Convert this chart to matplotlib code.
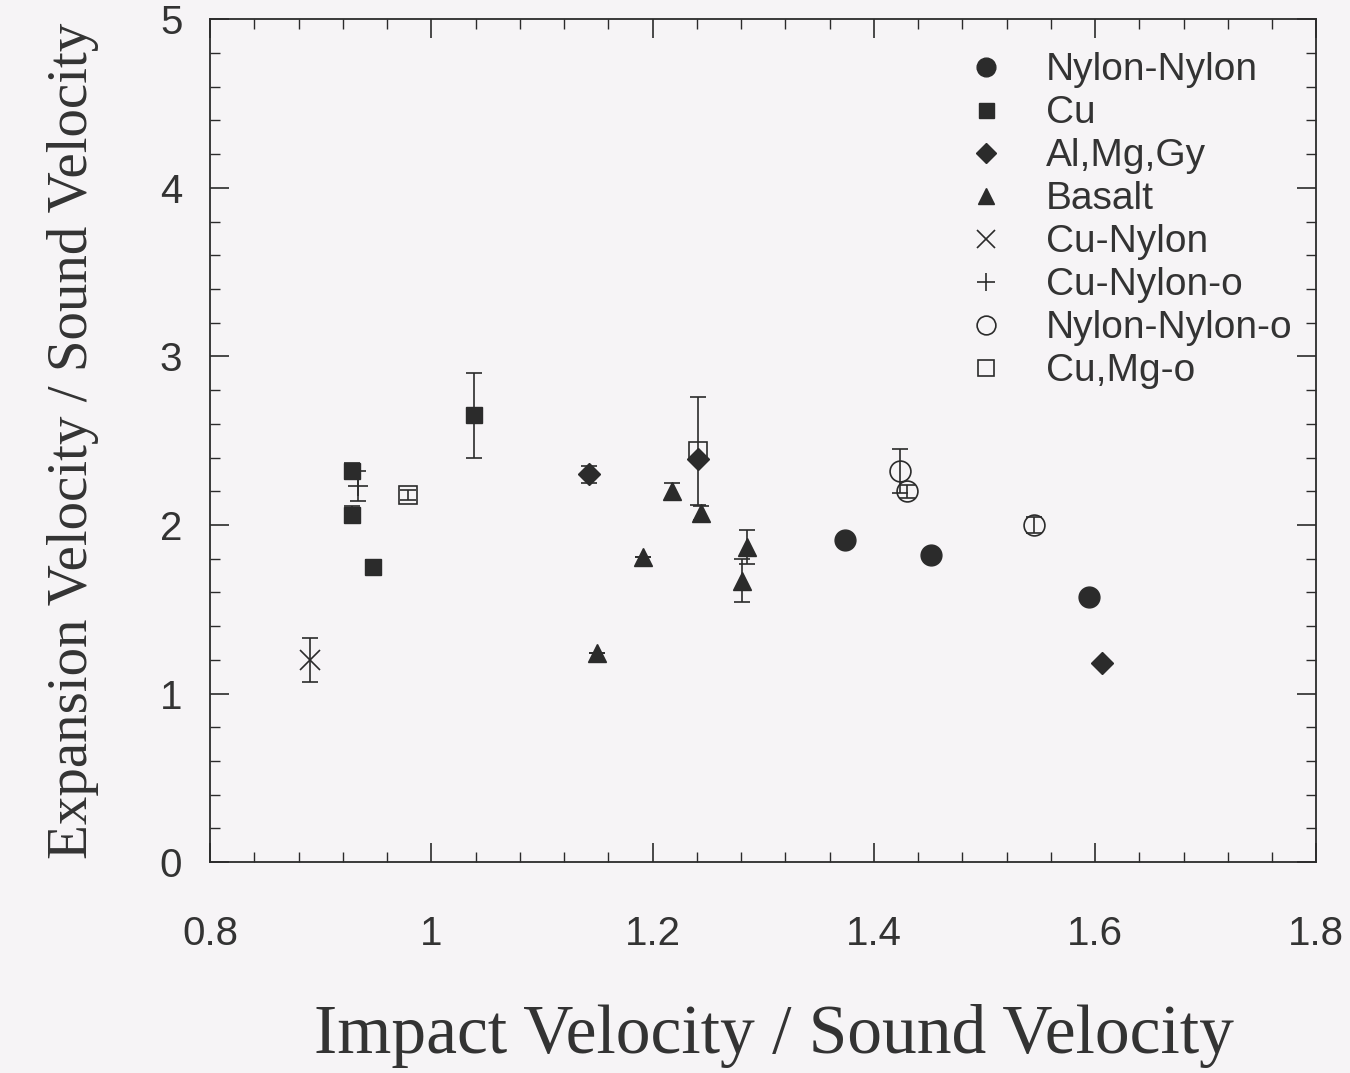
import numpy as np
import matplotlib
matplotlib.use('Agg')
import matplotlib.pyplot as plt
from matplotlib.ticker import MultipleLocator

# Data (x = impact / sound, y = expansion / sound)
nylon_x = [1.374, 1.452, 1.595]
nylon_y = [1.91, 1.82, 1.57]
nylon_err = [0.0, 0.0, 0.0]

cu_x = [0.928, 0.928, 1.039, 0.947]
cu_y = [2.32, 2.06, 2.65, 1.75]
cu_err = [0.05, 0.05, 0.25, 0.04]

al_x = [1.143, 1.241, 1.606]
al_y = [2.30, 2.39, 1.18]
al_err = [0.05, 0.0, 0.0]

basalt_x = [1.218, 1.244, 1.191, 1.150, 1.285, 1.281]
basalt_y = [2.20, 2.07, 1.81, 1.24, 1.87, 1.67]
basalt_err = [0.05, 0.04, 0.0, 0.0, 0.10, 0.13]

cunylon_x = [0.890]
cunylon_y = [1.20]
cunylon_err = [0.13]

cunylon_o_x = [0.934]
cunylon_o_y = [2.23]
cunylon_o_err = [0.09]

nylon_o_x = [1.424, 1.430, 1.545]
nylon_o_y = [2.32, 2.20, 2.00]
nylon_o_err = [0.13, 0.04, 0.05]

cumg_o_x = [0.979, 1.241]
cumg_o_y = [2.18, 2.44]
cumg_o_err = [0.03, 0.32]

ink = '#2b2b2b'
txt = '#333333'
bg = '#f6f4f6'

series = [
    ('Nylon-Nylon', nylon_x, nylon_y, nylon_err, dict(marker='o', ms=15, mfc=ink, mec=ink)),
    ('Cu', cu_x, cu_y, cu_err, dict(marker='s', ms=12, mfc=ink, mec=ink)),
    ('Al,Mg,Gy', al_x, al_y, al_err, dict(marker='D', ms=11, mfc=ink, mec=ink)),
    ('Basalt', basalt_x, basalt_y, basalt_err, dict(marker='^', ms=13, mfc=ink, mec=ink)),
    ('Cu-Nylon', cunylon_x, cunylon_y, cunylon_err, dict(marker='x', ms=14, mec=ink, mew=1.2)),
    ('Cu-Nylon-o', cunylon_o_x, cunylon_o_y, cunylon_o_err, dict(marker='+', ms=14, mec=ink, mew=1.2)),
    ('Nylon-Nylon-o', nylon_o_x, nylon_o_y, nylon_o_err, dict(marker='o', ms=15, mfc='none', mec=ink, mew=1.2)),
    ('Cu,Mg-o', cumg_o_x, cumg_o_y, cumg_o_err, dict(marker='s', ms=13, mfc='none', mec=ink, mew=1.2)),
]

fig = plt.figure(figsize=(13.5, 10.73), dpi=100, facecolor=bg)
ax = fig.add_axes([0.1556, 0.1966, 0.8194, 0.7854])
ax.set_facecolor(bg)

handles = []
for name, x, y, err, style in series:
    ax.errorbar(x, y, yerr=err, fmt='none', ecolor=ink, elinewidth=1.2, capsize=6, capthick=1.2)
    h, = ax.plot(x, y, ls='none', label=name, **style)
    handles.append(h)

ax.set_xlim(0.8, 1.8)
ax.set_ylim(0, 5)
ax.xaxis.set_major_locator(MultipleLocator(0.2))
ax.xaxis.set_minor_locator(MultipleLocator(0.04))
ax.yaxis.set_major_locator(MultipleLocator(1))
ax.yaxis.set_minor_locator(MultipleLocator(0.2))
ax.xaxis.set_major_formatter(plt.FuncFormatter(lambda v, p: '%g' % round(v, 2)))
ax.tick_params(which='both', direction='in', top=True, right=True, colors=ink,
               labelcolor=txt)
ax.tick_params(which='major', length=14, width=1.2, labelsize=29)
ax.tick_params(axis='x', which='major', pad=38)
ax.tick_params(axis='y', which='major', pad=20)
ax.tick_params(which='minor', length=7, width=1.0)
for lab in ax.get_xticklabels() + ax.get_yticklabels():
    lab.set_family('Liberation Sans')
for s in ax.spines.values():
    s.set_color(ink)
    s.set_linewidth(1.3)

ax.set_xlabel('Impact Velocity / Sound Velocity', family='Liberation Serif',
              fontsize=50, color=txt)
ax.xaxis.set_label_coords(0.51, -0.168)
ax.set_ylabel('Expansion Velocity / Sound Velocity', family='Liberation Serif',
              fontsize=41, color=txt, labelpad=44)

leg = ax.legend(handles=handles, loc='upper left', bbox_to_anchor=(0.690, 0.984),
                bbox_transform=fig.transFigure, frameon=False,
                prop={'family': 'Liberation Sans', 'size': 28},
                markerscale=0.9, handlelength=1.0, handletextpad=1.04,
                labelspacing=0.18, borderpad=0.4)
for t in leg.get_texts():
    t.set_color(txt)

fig.savefig('out.png', dpi=100, facecolor=bg)
